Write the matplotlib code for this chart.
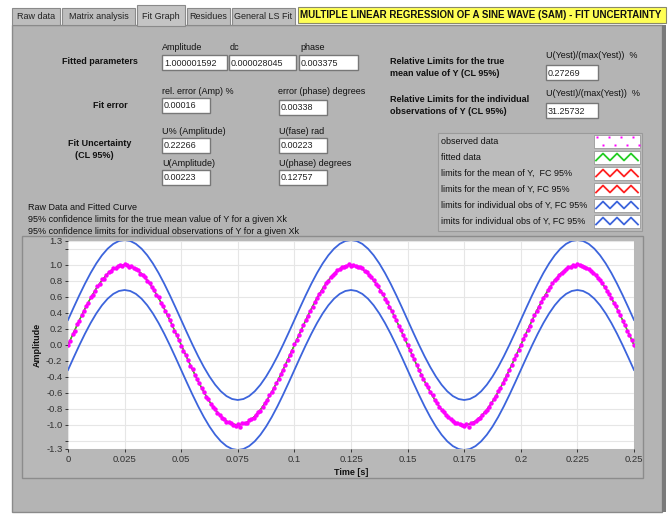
import numpy as np
import matplotlib
matplotlib.use("Agg")
import matplotlib.pyplot as plt
from matplotlib.patches import Rectangle

plt.rcParams['font.family'] = ['Liberation Sans', 'DejaVu Sans']

W, H = 672, 514

# Datos observados (muestreo cada 1 ms, 0 .. 0.25 s)
dt_obs = 0.001
observed = [
    0.00, 0.05, 0.14, 0.18, 0.26, 0.30, 0.38, 0.42, 0.49, 0.53,
    0.60, 0.63, 0.67, 0.74, 0.76, 0.82, 0.83, 0.88, 0.91, 0.92,
    0.96, 0.96, 0.99, 1.00, 0.99, 1.01, 1.00, 0.98, 0.99, 0.96,
    0.95, 0.94, 0.89, 0.88, 0.85, 0.80, 0.78, 0.72, 0.69, 0.63,
    0.60, 0.53, 0.49, 0.42, 0.37, 0.31, 0.25, 0.18, 0.13, 0.06,
    -0.01, -0.07, -0.12, -0.19, -0.26, -0.30, -0.37, -0.43, -0.47, -0.54,
    -0.59, -0.65, -0.68, -0.74, -0.77, -0.80, -0.85, -0.87, -0.91, -0.93,
    -0.96, -0.96, -0.98, -1.00, -1.01, -0.99, -1.02, -0.98, -0.97, -0.98,
    -0.94, -0.93, -0.91, -0.87, -0.84, -0.82, -0.77, -0.72, -0.69, -0.63,
    -0.59, -0.54, -0.47, -0.43, -0.36, -0.31, -0.25, -0.19, -0.12, -0.07,
    0.01, 0.06, 0.12, 0.19, 0.25, 0.31, 0.36, 0.43, 0.48, 0.54,
    0.59, 0.64, 0.68, 0.73, 0.78, 0.80, 0.85, 0.87, 0.90, 0.94,
    0.95, 0.97, 0.98, 0.99, 1.01, 0.99, 1.00, 0.99, 0.98, 0.97,
    0.96, 0.92, 0.91, 0.87, 0.85, 0.81, 0.76, 0.74, 0.68, 0.64,
    0.58, 0.54, 0.48, 0.43, 0.36, 0.31, 0.24, 0.19, 0.12, 0.07,
    0.00, -0.06, -0.13, -0.18, -0.25, -0.31, -0.37, -0.42, -0.49, -0.53,
    -0.59, -0.63, -0.69, -0.73, -0.77, -0.81, -0.84, -0.88, -0.90, -0.93,
    -0.95, -0.97, -0.98, -0.99, -1.00, -1.01, -0.99, -1.03, -0.98, -0.97,
    -0.95, -0.92, -0.91, -0.88, -0.84, -0.81, -0.77, -0.73, -0.68, -0.64,
    -0.58, -0.54, -0.48, -0.42, -0.37, -0.31, -0.25, -0.18, -0.13, -0.06,
    0.00, 0.07, 0.12, 0.19, 0.24, 0.31, 0.37, 0.42, 0.48, 0.54,
    0.59, 0.63, 0.69, 0.73, 0.77, 0.81, 0.84, 0.88, 0.90, 0.93,
    0.95, 0.97, 0.98, 1.00, 0.99, 1.01, 1.00, 0.99, 0.98, 0.96,
    0.95, 0.93, 0.90, 0.88, 0.84, 0.81, 0.77, 0.73, 0.68, 0.64,
    0.59, 0.53, 0.49, 0.42, 0.37, 0.30, 0.25, 0.18, 0.13, 0.06,
    0.00,
]

# Curva ajustada (cada 2.5 ms)
dt_fit = 0.0025
fitted = [
    0.0, 0.1564, 0.309, 0.454, 0.5878, 0.7071, 0.809, 0.891, 0.9511, 0.9877,
    1.0, 0.9877, 0.9511, 0.891, 0.809, 0.7071, 0.5878, 0.454, 0.309, 0.1564,
    0.0, -0.1564, -0.309, -0.454, -0.5878, -0.7071, -0.809, -0.891, -0.9511, -0.9877,
    -1.0, -0.9877, -0.9511, -0.891, -0.809, -0.7071, -0.5878, -0.454, -0.309, -0.1564,
    0.0, 0.1564, 0.309, 0.454, 0.5878, 0.7071, 0.809, 0.891, 0.9511, 0.9877,
    1.0, 0.9877, 0.9511, 0.891, 0.809, 0.7071, 0.5878, 0.454, 0.309, 0.1564,
    0.0, -0.1564, -0.309, -0.454, -0.5878, -0.7071, -0.809, -0.891, -0.9511, -0.9877,
    -1.0, -0.9877, -0.9511, -0.891, -0.809, -0.7071, -0.5878, -0.454, -0.309, -0.1564,
    0.0, 0.1564, 0.309, 0.454, 0.5878, 0.7071, 0.809, 0.891, 0.9511, 0.9877,
    1.0, 0.9877, 0.9511, 0.891, 0.809, 0.7071, 0.5878, 0.454, 0.309, 0.1564,
    0.0,
]

# Semi-anchos de los limites de confianza (95%)
u_mean = 0.0027269
u_obs = 0.3125732

# Textos del panel
tabs = ["Raw data", "Matrix analysis", "Fit Graph", "Residues", "General LS Fit"]
title = "MULTIPLE LINEAR REGRESSION OF A SINE WAVE (SAM) - FIT UNCERTAINTY"
param_labels = ["Amplitude", "dc", "phase"]
param_values = ["1.000001592", "0.000028045", "0.003375"]
error_labels = ["rel. error (Amp) %", "error (phase) degrees"]
error_values = ["0.00016", "0.00338"]
unc_labels = ["U% (Amplitude)", "U(fase) rad", "U(Amplitude)", "U(phase) degrees"]
unc_values = ["0.22266", "0.00223", "0.00223", "0.12757"]
rel_labels = ["U(Yest)/(max(Yest))  %", "U(YestI)/(max(Yest))  %"]
rel_values = ["0.27269", "31.25732"]
legend_labels = ["observed data", "fitted data", "limits for the mean of Y,  FC 95%",
                 "limits for the mean of Y, FC 95%", "limits for individual obs of Y, FC 95%",
                 "imits for individual obs of Y, FC 95%"]
xtick_vals = [0, 0.025, 0.05, 0.075, 0.1, 0.125, 0.15, 0.175, 0.2, 0.225, 0.25]
xtick_labels = ["0", "0.025", "0.05", "0.075", "0.1", "0.125", "0.15", "0.175", "0.2", "0.225", "0.25"]
ytick_vals = [-1.3, -1.2, -1.0, -0.8, -0.6, -0.4, -0.2, 0.0, 0.2, 0.4, 0.6, 0.8, 1.0, 1.2, 1.3]

PANEL = '#b4b4b4'
MAGENTA = '#ff00ff'
GREEN = '#22cc22'
RED = '#ff2020'
BLUE = '#3c64dc'
FS = 6.5

fig = plt.figure(figsize=(W / 100, H / 100), dpi=100)
fig.patch.set_facecolor('white')

bg = fig.add_axes([0, 0, 1, 1])
bg.set_xlim(0, W)
bg.set_ylim(H, 0)
bg.axis('off')

# panel principal
bg.add_patch(Rectangle((12, 25), 650, 487, facecolor=PANEL, edgecolor='#8a8a8a', lw=1))
bg.add_patch(Rectangle((662, 25), 4, 487, facecolor='#7a7a7a', edgecolor='none'))

# pestañas
tab_x = [12, 62, 137, 187, 232]
tab_w = [48, 73, 48, 43, 63]
for i, name in enumerate(tabs):
    sel = name == "Fit Graph"
    y0 = 5 if sel else 8
    bg.add_patch(Rectangle((tab_x[i], y0), tab_w[i], 25 - y0 + (1 if sel else 0),
                           facecolor='#c4c4c4' if sel else '#bdbdbd', edgecolor='#8a8a8a', lw=0.8))
    bg.text(tab_x[i] + tab_w[i] / 2, 16.5, name, fontsize=FS, ha='center', va='center', color='#222')
bg.add_patch(Rectangle((298, 7), 368, 16, facecolor='#ffff55', edgecolor='#8a8a6a', lw=0.8))
bg.text(300, 15.5, title, fontsize=7.0, fontweight='bold', ha='left', va='center', color='#111')


def box(x, y, w, txt, h=15):
    bg.add_patch(Rectangle((x, y), w, h, facecolor='white', edgecolor='#777', lw=1))
    bg.text(x + 2, y + h / 2 + 0.5, txt, fontsize=FS, ha='left', va='center', color='#222')


def label(x, y, txt, bold=False, ha='left'):
    bg.text(x, y, txt, fontsize=FS, ha=ha, va='center', color='#111',
            fontweight='bold' if bold else 'normal')


# parametros ajustados
for lx, t in zip([162, 230, 300], param_labels):
    label(lx, 47, t)
for bx, bw, v in zip([162, 229, 299], [65, 67, 59], param_values):
    box(bx, 55, bw, v)
label(62, 62, "Fitted parameters", bold=True)

label(162, 91, error_labels[0])
label(278, 91, error_labels[1])
label(110, 106, "Fit error", bold=True, ha='center')
box(162, 98, 48, error_values[0])
box(279, 100, 48, error_values[1])

label(162, 131, unc_labels[0])
label(279, 131, unc_labels[1])
label(68, 143, "Fit Uncertainty", bold=True)
label(75, 156, "(CL 95%)", bold=True)
box(162, 138, 48, unc_values[0])
box(279, 138, 48, unc_values[1])
label(162, 163, unc_labels[2])
label(279, 163, unc_labels[3])
box(162, 170, 48, unc_values[2])
box(279, 170, 48, unc_values[3])

label(28, 207, "Raw Data and Fitted Curve")
label(28, 219, "95% confidence limits for the true mean value of Y for a given Xk")
label(28, 231, "95% confidence limits for individual observations of Y for a given Xk")

# limites relativos
label(390, 62, "Relative Limits for the true", bold=True)
label(390, 73, "mean value of Y (CL 95%)", bold=True)
label(546, 56, rel_labels[0])
box(546, 65, 52, rel_values[0])
label(390, 99, "Relative Limits for the individual", bold=True)
label(390, 111, "observations of Y (CL 95%)", bold=True)
label(546, 93, rel_labels[1])
box(546, 103, 52, rel_values[1])

# leyenda
bg.add_patch(Rectangle((438, 133), 204, 98, facecolor='#bcbcbc', edgecolor='#9a9a9a', lw=0.8))
sw_colors = [MAGENTA, GREEN, RED, RED, BLUE, BLUE]
for i, (t, c) in enumerate(zip(legend_labels, sw_colors)):
    yc = 141 + 16 * i
    label(441, yc, t)
    bg.add_patch(Rectangle((594, yc - 6.5), 46, 13, facecolor='white', edgecolor='#999', lw=0.6))
    if i == 0:
        xs = np.arange(597, 640, 12)
        bg.plot(xs, np.full(len(xs), yc - 4.5), 's', color=c, ms=2.0, mec='none')
        bg.plot(xs + 6, np.full(len(xs), yc + 3.5), 's', color=c, ms=2.0, mec='none')
    else:
        zx = np.linspace(596, 638, 7)
        zy = yc + np.array([3.5, -3.5, 3.5, -3.5, 3.5, -3.5, 3.5])
        bg.plot(zx, zy, color=c, lw=1.3)

# marco del grafico
bg.add_patch(Rectangle((22, 236), 621, 242, facecolor='#b8b8b8', edgecolor='#8c8c8c', lw=1))

# grafico
x0, x1, ytop, ybot = 68, 634, 241, 449
ax = fig.add_axes([x0 / W, 1 - ybot / H, (x1 - x0) / W, (ybot - ytop) / H])
ax.set_facecolor('white')

t_obs = np.arange(len(observed)) * dt_obs
t_fit = np.arange(len(fitted)) * dt_fit
fit = np.array(fitted)

ax.plot(t_fit, fit + u_obs, color=BLUE, lw=1.3, zorder=3)
ax.plot(t_fit, fit - u_obs, color=BLUE, lw=1.3, zorder=3)
ax.plot(t_fit, fit + u_mean, color=RED, lw=0.8, zorder=3)
ax.plot(t_fit, fit - u_mean, color=RED, lw=0.8, zorder=3)
ax.plot(t_fit, fit, color=GREEN, lw=1.0, zorder=4)
ax.plot(t_obs, observed, 'o', color=MAGENTA, ms=3.2, mec='none', zorder=5)

ax.set_xlim(0, 0.25)
ax.set_ylim(-1.3, 1.3)
ax.set_xticks(xtick_vals)
ax.set_xticklabels(xtick_labels)
ax.set_yticks(ytick_vals)
ax.set_yticklabels(['' if abs(abs(v) - 1.2) < 1e-9 else f"{v:.1f}" for v in ytick_vals])
ax.grid(True, color='#e6e6e6', lw=0.8)
ax.set_axisbelow(True)
ax.tick_params(labelsize=6.8, colors='#333', length=2.5, width=0.7, pad=1.5)
for s in ax.spines.values():
    s.set_visible(False)
ax.set_xlabel("Time [s]", fontsize=FS, fontweight='bold', color='#111', labelpad=3)
ax.set_ylabel("Amplitude", fontsize=FS, fontweight='bold', color='#111', labelpad=3)

fig.savefig("out.png", dpi=100)
